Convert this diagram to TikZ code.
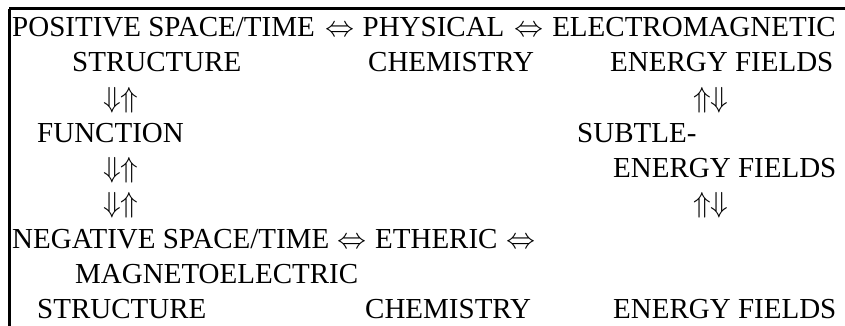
\RequirePackage{fix-cm}
\documentclass[tikz,border=0pt]{standalone}
\usepackage{fontspec}
\setmainfont{Liberation Serif}
\tikzset{
  row/.style={anchor=base west, inner sep=0pt, font=\fontsize{29}{35}\selectfont},
  rule/.style={line width=3pt}
}
\newcommand{\lr}{$\Leftrightarrow$}
\newcommand{\du}{$\Downarrow\Uparrow$}
\newcommand{\ud}{$\Uparrow\Downarrow$}
\begin{document}
\begin{tikzpicture}[x=1pt,y=-1pt]
\useasboundingbox (0,0) rectangle (845,326);

% frame
\draw[rule] (9,9) -- (845,9);
\draw[rule] (9,9) -- (9,326);

% top row
\node[row] (pos) at (12,37) {POSITIVE SPACE/TIME};
\node[row,xshift=10pt] (pl1) at (pos.base east) {\lr};
\node[row,xshift=8pt] (phys) at (pl1.base east) {PHYSICAL};
\node[row,xshift=10pt] (pl2) at (phys.base east) {\lr};
\node[row,xshift=8pt] (em) at (pl2.base east) {ELECTROMAGNETIC};
\node[row] (pstr) at (72,72) {STRUCTURE};
\node[row] (pchem) at (368,72) {CHEMISTRY};
\node[row] (pfld) at (610,72) {ENERGY FIELDS};

% middle
\node[row] (a1) at (103,107) {\du};
\node[row] (a2) at (693,107) {\ud};
\node[row] (fun) at (37,142) {FUNCTION};
\node[row] (sub) at (577,142) {SUBTLE-};
\node[row] (a3) at (103,177) {\du};
\node[row] (sfld) at (613,177) {ENERGY FIELDS};
\node[row] (a4) at (103,212) {\du};
\node[row] (a5) at (693,212) {\ud};

% bottom row
\node[row] (neg) at (12,248) {NEGATIVE SPACE/TIME};
\node[row,xshift=8pt] (nl1) at (neg.base east) {\lr};
\node[row,xshift=8pt] (eth) at (nl1.base east) {ETHERIC};
\node[row,xshift=9pt] (nl2) at (eth.base east) {\lr};
\node[row] (mag) at (75,283) {MAGNETOELECTRIC};
\node[row] (nstr) at (37,318) {STRUCTURE};
\node[row] (nchem) at (365,318) {CHEMISTRY};
\node[row] (nfld) at (613,318) {ENERGY FIELDS};
\end{tikzpicture}
\end{document}
